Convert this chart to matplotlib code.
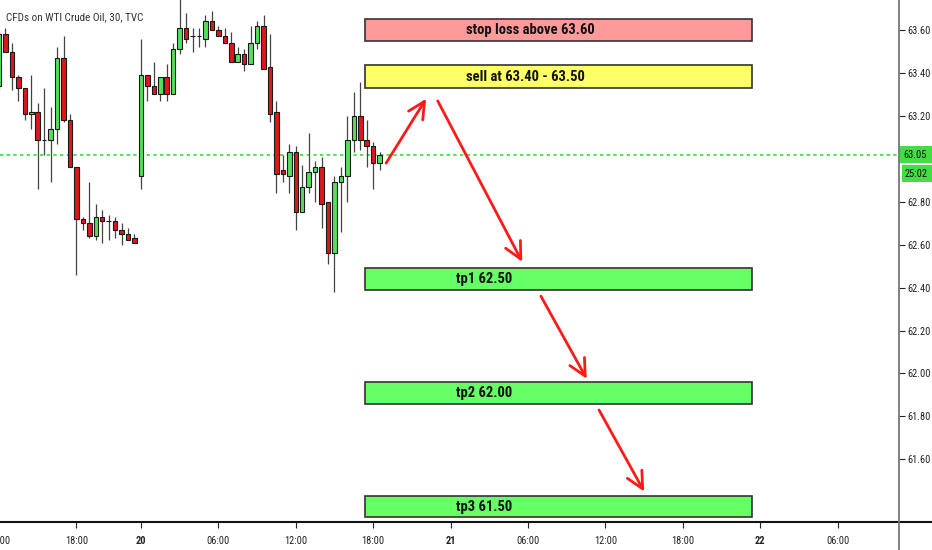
import numpy as np
import matplotlib
matplotlib.use('Agg')
import matplotlib.pyplot as plt
from matplotlib.lines import Line2D
from matplotlib.patches import Rectangle
from matplotlib.transforms import blended_transform_factory

plt.rcParams['font.family'] = ['Roboto Condensed', 'DejaVu Sans']

# 30 min candles, WTI crude
opens = [63.34, 63.58, 63.50, 63.38, 63.33, 63.21, 63.22, 63.09, 63.09, 63.14,
         63.47, 63.18, 62.96, 62.72, 62.70, 62.64, 62.73, 62.71, 62.71, 62.67,
         62.65, 62.63, 62.92, 63.39, 63.34, 63.30, 63.38, 63.30, 63.51, 63.61,
         63.57, 63.57, 63.56, 63.64, 63.60, 63.57, 63.54, 63.45, 63.49, 63.44,
         63.54, 63.62, 63.43, 63.22, 62.95, 62.92, 63.03, 62.75, 62.87, 62.94,
         62.96, 62.80, 62.56, 62.89, 62.92, 63.09, 63.20, 63.09, 63.06, 62.98]
highs = [63.59, 63.61, 63.54, 63.39, 63.33, 63.39, 63.26, 63.33, 63.24, 63.52,
         63.57, 63.21, 62.96, 62.73, 62.89, 62.79, 62.76, 62.74, 62.73, 62.70,
         62.68, 62.65, 63.56, 63.39, 63.45, 63.38, 63.44, 63.54, 63.76, 63.68,
         63.61, 63.61, 63.67, 63.69, 63.62, 63.61, 63.59, 63.52, 63.51, 63.62,
         63.64, 63.67, 63.58, 63.27, 63.02, 63.07, 63.06, 62.97, 63.12, 62.99,
         63.01, 62.80, 62.92, 62.96, 63.20, 63.31, 63.36, 63.18, 63.08, 63.03]
lows = [63.32, 63.50, 63.32, 63.27, 63.18, 63.14, 62.86, 63.02, 62.89, 63.07,
        63.17, 62.96, 62.46, 62.67, 62.63, 62.62, 62.61, 62.62, 62.63, 62.60,
        62.62, 62.61, 62.86, 63.27, 63.30, 63.27, 63.27, 63.30, 63.49, 63.54,
        63.50, 63.52, 63.52, 63.60, 63.57, 63.54, 63.45, 63.45, 63.41, 63.44,
        63.51, 63.42, 63.17, 62.84, 62.89, 62.84, 62.67, 62.75, 62.84, 62.80,
        62.68, 62.51, 62.38, 62.66, 62.80, 63.03, 63.04, 62.96, 62.86, 62.95]
closes = [63.58, 63.50, 63.38, 63.33, 63.21, 63.22, 63.09, 63.09, 63.14, 63.47,
          63.18, 62.96, 62.72, 62.70, 62.64, 62.73, 62.71, 62.71, 62.67, 62.65,
          62.62, 62.61, 63.39, 63.34, 63.30, 63.38, 63.30, 63.51, 63.61, 63.56,
          63.57, 63.57, 63.64, 63.60, 63.57, 63.54, 63.45, 63.49, 63.44, 63.54,
          63.62, 63.42, 63.21, 62.93, 62.93, 63.03, 62.75, 62.87, 62.94, 62.96,
          62.79, 62.56, 62.89, 62.92, 63.09, 63.20, 63.09, 63.06, 62.98, 63.02]

tick_pos = [12, 22, 34, 46, 58, 70, 82, 94, 106, 118, 130]
tick_lbl = ['18:00', '20', '06:00', '12:00', '18:00', '21', '06:00', '12:00', '18:00', '22', '06:00']
day_lbls = ['20', '21', '22']
yticks = [61.6, 61.8, 62.0, 62.2, 62.4, 62.6, 62.8, 63.2, 63.4, 63.6]
ytick_lbl = ['61.60', '61.80', '62.00', '62.20', '62.40', '62.60', '62.80', '63.20', '63.40', '63.60']

# trade plan zones
zone_lbls = ['stop loss above 63.60', 'sell at 63.40 - 63.50', 'tp1 62.50', 'tp2 62.00', 'tp3 61.50']
zone_low = [63.55, 63.33, 62.39, 61.86, 61.33]
zone_high = [63.65, 63.435, 62.49, 61.96, 61.43]
zone_cols = ['#ff9a9a', '#ffff66', '#66ff66', '#66ff66', '#66ff66']
zone_text_x = [72.4, 72.4, 70.9, 70.9, 70.9]
zone_x0, zone_x1 = 56.7, 116.7

# projected path arrows (bar index, price)
arr_x0 = [60.0, 68.0, 84.0, 93.0]
arr_y0 = [62.98, 63.27, 62.36, 61.83]
arr_x1 = [66.2, 81.1, 91.1, 100.0]
arr_y1 = [63.28, 62.52, 61.975, 61.45]

last_price_lbl = '63.05'
countdown = '25:02'

fig = plt.figure(figsize=(9.32, 5.5), dpi=100)
ax = fig.add_axes([0, 28 / 550, 899 / 932, 522 / 550])

x = np.arange(len(opens))
o = np.array(opens); c = np.array(closes)
up = c >= o
col = np.where(up, '#55e05a', '#e0161c')

ax.vlines(x, lows, highs, color='#444444', lw=0.9, zorder=2)
ax.bar(x, np.abs(c - o), bottom=np.minimum(o, c), width=0.7, color=col,
       edgecolor='#1a1a1a', linewidth=0.8, zorder=3)

# current price line
ax.axhline(closes[-1], color='#33dd33', lw=1.2, ls=(0, (2, 2)), zorder=1)

for lbl, lo, hi, fc, tx in zip(zone_lbls, zone_low, zone_high, zone_cols, zone_text_x):
    ax.add_patch(Rectangle((zone_x0, lo), zone_x1 - zone_x0, hi - lo, facecolor=fc,
                           edgecolor='#333333', lw=1.2, zorder=4))
    ax.text(tx, (lo + hi) / 2, lbl, ha='left', va='center', fontsize=10.5,
            fontweight='bold', color='#111111', zorder=5)

for a, b, cc, d in zip(arr_x0, arr_y0, arr_x1, arr_y1):
    ax.annotate('', xy=(cc, d), xytext=(a, b),
                arrowprops=dict(arrowstyle='->,head_length=0.6,head_width=0.3',
                                color='#ff1a1a', lw=2, mutation_scale=20,
                                shrinkA=0, shrinkB=0), zorder=6)

ax.set_xlim(0.155, 139.5)
ax.set_ylim(61.308, 63.74)

ax.yaxis.tick_right()
ax.set_yticks(yticks)
ax.set_yticklabels(ytick_lbl)
ax.set_xticks(tick_pos)
ax.set_xticklabels(tick_lbl)
for t in ax.get_xticklabels():
    if t.get_text() in day_lbls:
        t.set_fontweight('bold')
ax.tick_params(axis='both', labelsize=7.5, colors='#222222', length=4, width=0.8, pad=2)
ax.tick_params(axis='x', pad=6)

for s in ax.spines.values():
    s.set_visible(False)

# partial first tick label at left edge
ax.text(0, -0.027, '12:00', transform=ax.get_xaxis_transform(), ha='center', va='top',
        fontsize=7.5, color='#222222', clip_on=False)

# axis frame lines reaching the figure edge
fig.add_artist(Line2D([0, 1], [28 / 550, 28 / 550], color='#111111', lw=1.5))
fig.add_artist(Line2D([899 / 932, 899 / 932], [0, 1], color='#777777', lw=1.3))

# price label and countdown on the price scale
tr = blended_transform_factory(fig.transFigure, ax.transData)
h = 17 / 214.7
ax.add_patch(Rectangle((899 / 932, closes[-1] - h / 2), 33 / 932, h, transform=tr,
                       facecolor='#44dd44', edgecolor='none', clip_on=False, zorder=7))
ax.add_patch(Rectangle((902 / 932, closes[-1] - h / 2 - 0.01 - h), 30 / 932, h, transform=tr,
                       facecolor='#44dd44', edgecolor='none', clip_on=False, zorder=7))
ax.text(915 / 932, closes[-1], last_price_lbl, transform=tr, ha='center', va='center',
        fontsize=7.5, color='#111111', clip_on=False, zorder=8)
ax.text(916 / 932, closes[-1] - h - 0.01, countdown, transform=tr, ha='center', va='center',
        fontsize=7.5, color='#111111', clip_on=False, zorder=8)

fig.text(6 / 932, 1 - 17 / 550, 'CFDs on WTI Crude Oil, 30, TVC', ha='left', va='center',
         fontsize=8, color='#333333')

fig.savefig('out.png', dpi=100)
